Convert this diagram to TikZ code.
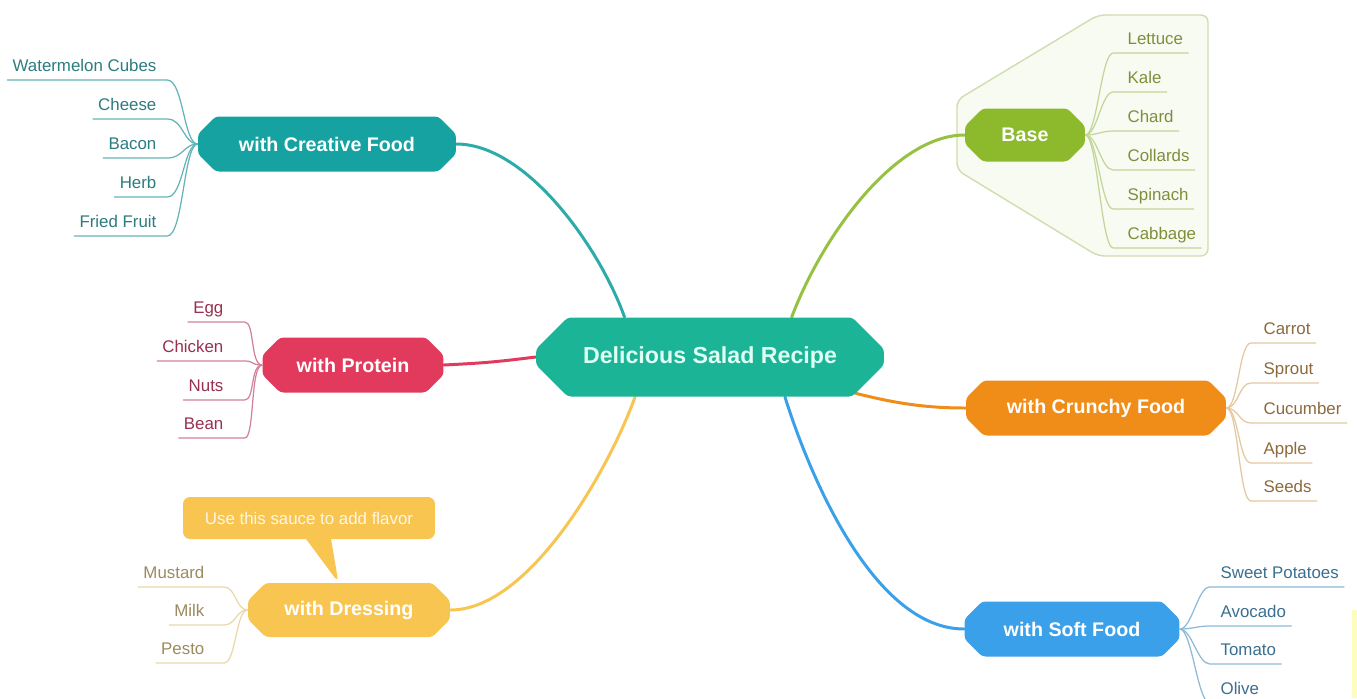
\documentclass[tikz,border=0pt]{standalone}
\usepackage{fontspec}
\setmainfont{Liberation Sans}
\usepackage{xcolor}
\usetikzlibrary{shapes.misc, shapes.callouts, backgrounds}

\definecolor{saladmain}{RGB}{28,180,150}
\definecolor{saladmaintxt}{RGB}{222,255,244}
\definecolor{creativefill}{RGB}{22,162,160}
\definecolor{creativetxt}{RGB}{44,124,128}
\definecolor{creativeline}{RGB}{100,180,182}
\definecolor{proteinfill}{RGB}{226,58,92}
\definecolor{proteintxt}{RGB}{154,48,80}
\definecolor{proteinline}{RGB}{210,130,152}
\definecolor{dressingfill}{RGB}{248,198,80}
\definecolor{dressingtxt}{RGB}{156,138,96}
\definecolor{dressingline}{RGB}{232,216,170}
\definecolor{basefill}{RGB}{140,186,44}
\definecolor{basetxt}{RGB}{126,143,60}
\definecolor{basetwig}{RGB}{196,212,154}
\definecolor{crunchyfill}{RGB}{240,140,24}
\definecolor{crunchytxt}{RGB}{140,106,60}
\definecolor{crunchyline}{RGB}{228,200,160}
\definecolor{softfill}{RGB}{58,160,233}
\definecolor{softtxt}{RGB}{59,111,143}
\definecolor{softline}{RGB}{140,186,216}

\begin{document}
\begin{tikzpicture}[x=0.02cm, y=-0.02cm,
    topic/.style={chamfered rectangle, chamfered rectangle xsep=3pt,
      chamfered rectangle ysep=7pt, inner sep=0pt, rounded corners=2pt,
      text=white, font=\fontsize{11.2}{13}\selectfont\bfseries},
    leafl/.style={anchor=south east, inner xsep=3pt, inner ysep=2.5pt,
      text depth=2.2pt, font=\fontsize{9.6}{11}\selectfont},
    leafr/.style={leafl, anchor=south west},
    link/.style={line width=1.7pt, line cap=round},
    twig/.style={line width=0.7pt}]

  \begin{scope}[on background layer]
    \fill[white] (0,0) rectangle (1357,698);
    \fill[yellow!25] (1352,610) rectangle (1357,698);
    % group frame round the base leaves
    \draw[rounded corners=4pt, fill=basefill!6, draw=basetwig!80, line width=0.8pt]
      (957,100) -- (1098,15) -- (1208,15) -- (1208,256) -- (1098,256) -- (957,170) -- cycle;
  \end{scope}
  \useasboundingbox (0,0) rectangle (1357,698);

  % central topic
  \node[topic, fill=saladmain, text=saladmaintxt, chamfered rectangle xsep=5pt,
    chamfered rectangle ysep=13pt, minimum width=6.96cm, minimum height=1.58cm,
    font=\fontsize{13.2}{15}\selectfont\bfseries] (salad) at (710,357) {Delicious Salad Recipe};

  % main branches
  \node[topic, fill=creativefill, minimum width=5.16cm, minimum height=1.1cm] (creative) at (327,144) {with Creative Food};
  \node[topic, fill=proteinfill, minimum width=3.62cm, minimum height=1.1cm] (protein) at (353,365) {with Protein};
  \node[topic, fill=dressingfill, minimum width=4.04cm, minimum height=1.08cm] (dressing) at (349,610) {with Dressing};
  \node[topic, fill=basefill, minimum width=2.4cm, minimum height=1.06cm] (base) at (1025,135) {Base};
  \node[topic, fill=crunchyfill, minimum width=5.2cm, minimum height=1.1cm] (crunchy) at (1096,408) {with Crunchy Food};
  \node[topic, fill=softfill, minimum width=4.3cm, minimum height=1.1cm] (soft) at (1072,629) {with Soft Food};

  % note on the dressing
  \node[rectangle callout, fill=dressingfill, rounded corners=4pt, text=white!85!dressingfill,
    minimum width=5.04cm, minimum height=0.84cm, callout pointer width=0.5cm,
    font=\fontsize{9.6}{11}\selectfont,
    callout absolute pointer={([xshift=-6pt]dressing.north)}] (tip) at (309,518) {Use this sauce to add flavor};

  \begin{scope}[on background layer]
    \draw[link, creativefill!90!white] (salad.155) .. controls +(-25,-70) and +(70,0) .. (creative.east);
    \draw[link, proteinfill] (salad.west) .. controls +(-40,5) and +(40,-2) .. (protein.east);
    \draw[link, dressingfill] (salad.208) .. controls +(-25,70) and +(80,0) .. (dressing.east);
    \draw[link, basefill!90!white] (salad.26) .. controls +(30,-80) and +(-70,0) .. (base.west);
    \draw[link, crunchyfill] (salad.346) .. controls +(40,10) and +(-40,0) .. (crunchy.west);
    \draw[link, softfill] (salad.332) .. controls +(25,80) and +(-90,0) .. (soft.west);
  \end{scope}

  % creative food
  \node[leafl, text=creativetxt] (c1) at (162,80) {Watermelon Cubes};
  \node[leafl, text=creativetxt] (c2) at (162,119) {Cheese};
  \node[leafl, text=creativetxt] (c3) at (162,158) {Bacon};
  \node[leafl, text=creativetxt] (c4) at (162,197) {Herb};
  \node[leafl, text=creativetxt] (c5) at (162,236) {Fried Fruit};
  \draw[twig, creativeline] (creative.west) .. controls +(-14,0) and +(16,0) .. ([xshift=3pt]c1.south east) -- (c1.south west);
  \draw[twig, creativeline] (creative.west) .. controls +(-14,0) and +(16,0) .. ([xshift=3pt]c2.south east) -- (c2.south west);
  \draw[twig, creativeline] (creative.west) .. controls +(-14,0) and +(16,0) .. ([xshift=3pt]c3.south east) -- (c3.south west);
  \draw[twig, creativeline] (creative.west) .. controls +(-14,0) and +(16,0) .. ([xshift=3pt]c4.south east) -- (c4.south west);
  \draw[twig, creativeline] (creative.west) .. controls +(-14,0) and +(16,0) .. ([xshift=3pt]c5.south east) -- (c5.south west);

  % protein
  \node[leafl, text=proteintxt] (p1) at (229,322) {Egg};
  \node[leafl, text=proteintxt] (p2) at (229,361) {Chicken};
  \node[leafl, text=proteintxt] (p3) at (229,400) {Nuts};
  \node[leafl, text=proteintxt] (p4) at (229,438) {Bean};
  \draw[twig, proteinline] (protein.west) .. controls +(-12,0) and +(10,0) .. ([xshift=9pt]p1.south east) -- (p1.south west);
  \draw[twig, proteinline] (protein.west) .. controls +(-12,0) and +(10,0) .. ([xshift=9pt]p2.south east) -- (p2.south west);
  \draw[twig, proteinline] (protein.west) .. controls +(-12,0) and +(10,0) .. ([xshift=9pt]p3.south east) -- (p3.south west);
  \draw[twig, proteinline] (protein.west) .. controls +(-12,0) and +(10,0) .. ([xshift=9pt]p4.south east) -- (p4.south west);

  % dressing
  \node[leafl, text=dressingtxt] (d1) at (210,587) {Mustard};
  \node[leafl, text=dressingtxt] (d2) at (210,625) {Milk};
  \node[leafl, text=dressingtxt] (d3) at (210,663) {Pesto};
  \draw[twig, dressingline] (dressing.west) .. controls +(-12,0) and +(12,0) .. ([xshift=8pt]d1.south east) -- (d1.south west);
  \draw[twig, dressingline] (dressing.west) .. controls +(-12,0) and +(12,0) .. ([xshift=8pt]d2.south east) -- (d2.south west);
  \draw[twig, dressingline] (dressing.west) .. controls +(-12,0) and +(12,0) .. ([xshift=8pt]d3.south east) -- (d3.south west);

  % base
  \node[leafr, text=basetxt] (b1) at (1122,53) {Lettuce};
  \node[leafr, text=basetxt] (b2) at (1122,92) {Kale};
  \node[leafr, text=basetxt] (b3) at (1122,131) {Chard};
  \node[leafr, text=basetxt] (b4) at (1122,170) {Collards};
  \node[leafr, text=basetxt] (b5) at (1122,209) {Spinach};
  \node[leafr, text=basetxt] (b6) at (1122,248) {Cabbage};
  \draw[twig, basetwig] (base.east) .. controls +(12,0) and +(-12,0) .. ([xshift=-5pt]b1.south west) -- (b1.south east);
  \draw[twig, basetwig] (base.east) .. controls +(12,0) and +(-12,0) .. ([xshift=-5pt]b2.south west) -- (b2.south east);
  \draw[twig, basetwig] (base.east) .. controls +(12,0) and +(-12,0) .. ([xshift=-5pt]b3.south west) -- (b3.south east);
  \draw[twig, basetwig] (base.east) .. controls +(12,0) and +(-12,0) .. ([xshift=-5pt]b4.south west) -- (b4.south east);
  \draw[twig, basetwig] (base.east) .. controls +(12,0) and +(-12,0) .. ([xshift=-5pt]b5.south west) -- (b5.south east);
  \draw[twig, basetwig] (base.east) .. controls +(12,0) and +(-12,0) .. ([xshift=-5pt]b6.south west) -- (b6.south east);

  % crunchy food
  \node[leafr, text=crunchytxt] (r1) at (1258,343) {Carrot};
  \node[leafr, text=crunchytxt] (r2) at (1258,383) {Sprout};
  \node[leafr, text=crunchytxt] (r3) at (1258,423) {Cucumber};
  \node[leafr, text=crunchytxt] (r4) at (1258,463) {Apple};
  \node[leafr, text=crunchytxt] (r5) at (1258,501) {Seeds};
  \draw[twig, crunchyline] (crunchy.east) .. controls +(12,0) and +(-12,0) .. ([xshift=-4pt]r1.south west) -- (r1.south east);
  \draw[twig, crunchyline] (crunchy.east) .. controls +(12,0) and +(-12,0) .. ([xshift=-4pt]r2.south west) -- (r2.south east);
  \draw[twig, crunchyline] (crunchy.east) .. controls +(12,0) and +(-12,0) .. ([xshift=-4pt]r3.south west) -- (r3.south east);
  \draw[twig, crunchyline] (crunchy.east) .. controls +(12,0) and +(-12,0) .. ([xshift=-4pt]r4.south west) -- (r4.south east);
  \draw[twig, crunchyline] (crunchy.east) .. controls +(12,0) and +(-12,0) .. ([xshift=-4pt]r5.south west) -- (r5.south east);

  % soft food
  \node[leafr, text=softtxt] (s1) at (1215,587) {Sweet Potatoes};
  \node[leafr, text=softtxt] (s2) at (1215,626) {Avocado};
  \node[leafr, text=softtxt] (s3) at (1215,664) {Tomato};
  \node[leafr, text=softtxt] (s4) at (1215,703) {Olive};
  \draw[twig, softline] (soft.east) .. controls +(12,0) and +(-12,0) .. ([xshift=-3pt]s1.south west) -- (s1.south east);
  \draw[twig, softline] (soft.east) .. controls +(12,0) and +(-12,0) .. ([xshift=-3pt]s2.south west) -- (s2.south east);
  \draw[twig, softline] (soft.east) .. controls +(12,0) and +(-12,0) .. ([xshift=-3pt]s3.south west) -- (s3.south east);
  \draw[twig, softline] (soft.east) .. controls +(12,0) and +(-12,0) .. ([xshift=-3pt]s4.south west) -- (s4.south east);
\end{tikzpicture}
\end{document}
